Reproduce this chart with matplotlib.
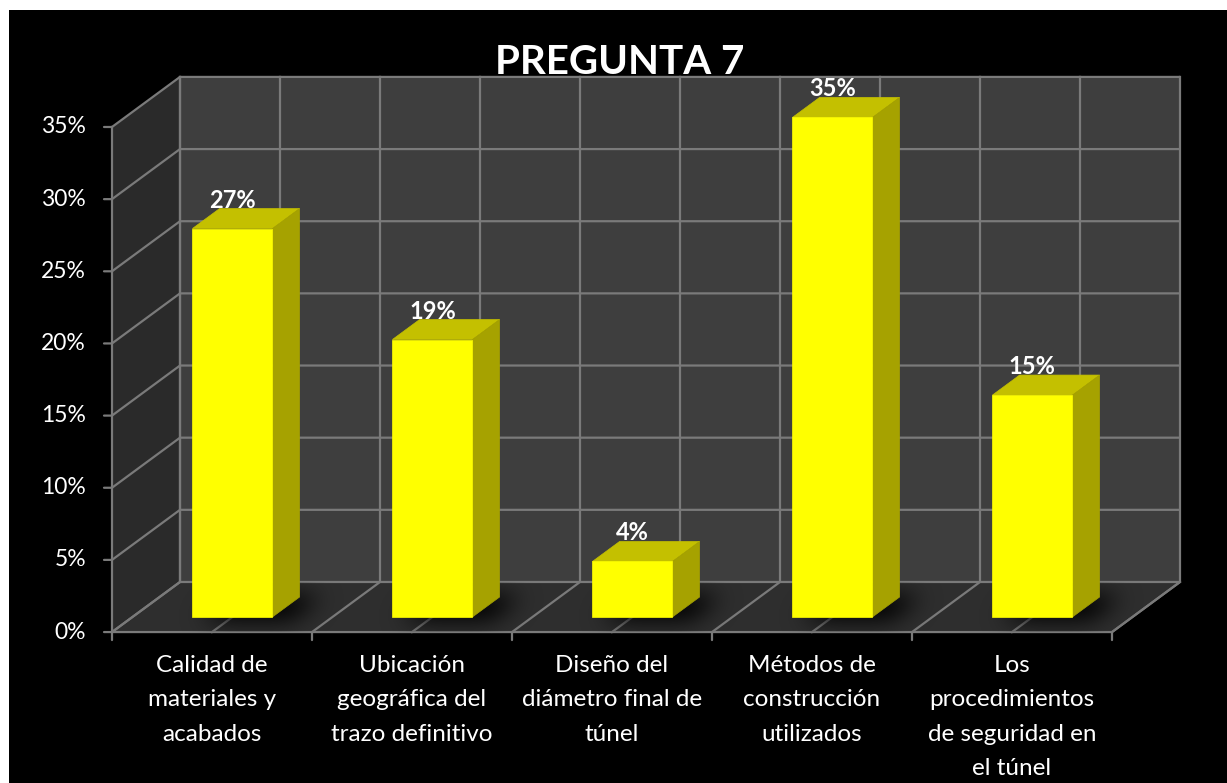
import numpy as np
import matplotlib
matplotlib.use("Agg")
import matplotlib.pyplot as plt
from matplotlib.patches import Polygon, Rectangle

plt.rcParams['font.family'] = ['Lato', 'DejaVu Sans']

title = "PREGUNTA 7"
categories = [
    "Calidad de\nmateriales y\nacabados",
    "Ubicación\ngeográfica del\ntrazo definitivo",
    "Diseño del\ndiámetro final de\ntúnel",
    "Métodos de\nconstrucción\nutilizados",
    "Los\nprocedimientos\nde seguridad en\nel túnel",
]
values = [0.2692, 0.1923, 0.0385, 0.3462, 0.1538]
yticks = [0, 0.05, 0.10, 0.15, 0.20, 0.25, 0.30, 0.35]

# oblique projection: depth d in [0, 1] shifts points right and up
DX, DY = 0.34, 0.0347
D0, D1 = 0.3, 0.7      # bar depth span
HALF = 0.2             # half bar width

BACK = "#3e3e3e"
LEFT = "#2a2a2a"
FLOOR = "#2e2e2e"
GRID = "#7a7a7a"
FRONT_C = "#ffff00"
TOP_C = "#c4c000"
SIDE_C = "#a6a200"


def P(x, v, d):
    return (x + DX * d, v + DY * d)


fig = plt.figure(figsize=(12.27, 7.83), dpi=100)
fig.patch.set_facecolor("white")
fig.patches.append(Rectangle((9 / 1227, 0), 1, 773 / 783, transform=fig.transFigure,
                             facecolor="black", edgecolor="none", zorder=-10))
ax = fig.add_axes([0, 0, 1, 1])
ax.set_facecolor("none")
ax.axis("off")

n = len(categories)
xl, xr = -0.5, n - 0.5
vmax = yticks[-1]

# walls and floor
back = Polygon([P(xl, 0, 1), P(xr, 0, 1), P(xr, vmax, 1), P(xl, vmax, 1)],
               facecolor=BACK, edgecolor="none", zorder=1)
left = Polygon([P(xl, 0, 0), P(xl, 0, 1), P(xl, vmax, 1), P(xl, vmax, 0)],
               facecolor=LEFT, edgecolor="none", zorder=1)
floor = Polygon([P(xl, 0, 0), P(xr, 0, 0), P(xr, 0, 1), P(xl, 0, 1)],
                facecolor=FLOOR, edgecolor="none", zorder=1)
for p in (back, left, floor):
    ax.add_patch(p)

lw = 1.6
# horizontal grid on back wall and left wall
for t in yticks:
    xs, ys = zip(P(xl, t, 0), P(xl, t, 1), P(xr, t, 1))
    ax.plot(xs, ys, color=GRID, lw=lw, zorder=2, solid_capstyle="butt")
# vertical grid on back wall, depth lines on floor
for k in range(2 * n + 1):
    x = xl + 0.5 * k
    xs, ys = zip(P(x, 0, 0), P(x, 0, 1), P(x, vmax, 1))
    ax.plot(xs, ys, color=GRID, lw=lw, zorder=2)
# outer edges
xs, ys = zip(P(xl, vmax, 0), P(xl, 0, 0), P(xr, 0, 0), P(xr, 0, 1))
ax.plot(xs, ys, color=GRID, lw=lw, zorder=2)
xs, ys = zip(P(xl, 0, 1), P(xl, vmax, 1))
ax.plot(xs, ys, color=GRID, lw=lw, zorder=2)

# tick marks
for t in yticks:
    ax.annotate("", xy=(xl, t), xytext=(-8, 0), textcoords="offset pixels",
                arrowprops=dict(arrowstyle="-", color=GRID, lw=lw, shrinkA=0, shrinkB=0))
    ax.annotate(f"{t:.0%}", xy=(xl, t), xytext=(-26, 0), textcoords="offset pixels",
                ha="right", va="center", color="white", fontsize=16.5)
for k in range(n + 1):
    ax.annotate("", xy=(xl + k, 0), xytext=(0, -8), textcoords="offset pixels",
                arrowprops=dict(arrowstyle="-", color=GRID, lw=lw, shrinkA=0, shrinkB=0))

# soft shadows under the bars
nx, ny = 300, 90
for i in range(n):
    ex0, ex1 = i - 0.55, i + 0.95
    ev0, ev1 = -0.01, 0.052
    gx = np.linspace(ex0, ex1, nx)
    gv = np.linspace(ev0, ev1, ny)
    X, V = np.meshgrid(gx, gv)
    d = V / DY
    u = X - DX * d - 0.06
    mask = ((d >= D0 - 0.05) & (d <= D1) & (u >= i - HALF) & (u <= i + HALF + 0.05)).astype(float)
    k = np.exp(-0.5 * (np.arange(-36, 37) / 12.0) ** 2)
    k /= k.sum()
    blur = np.apply_along_axis(lambda r: np.convolve(r, k, mode="same"), 1, mask)
    blur = np.apply_along_axis(lambda c: np.convolve(c, k, mode="same"), 0, blur)
    rgba = np.zeros((ny, nx, 4))
    rgba[..., 3] = np.clip(blur * 1.2, 0, 0.85)
    im = ax.imshow(rgba, extent=(ex0, ex1, ev0, ev1), origin="lower",
                   aspect="auto", interpolation="bilinear", zorder=3)
    im.set_clip_path(floor)

# bars
for i, v in enumerate(values):
    x0, x1 = i - HALF, i + HALF
    front = [P(x0, 0, D0), P(x1, 0, D0), P(x1, v, D0), P(x0, v, D0)]
    side = [P(x1, 0, D0), P(x1, 0, D1), P(x1, v, D1), P(x1, v, D0)]
    top = [P(x0, v, D0), P(x1, v, D0), P(x1, v, D1), P(x0, v, D1)]
    ax.add_patch(Polygon(top, facecolor=TOP_C, edgecolor=TOP_C, lw=0.5, zorder=4))
    ax.add_patch(Polygon(side, facecolor=SIDE_C, edgecolor=SIDE_C, lw=0.5, zorder=4))
    ax.add_patch(Polygon(front, facecolor=FRONT_C, edgecolor=FRONT_C, lw=0.5, zorder=5))
    lx = P(i, v, D0)[0]
    ly = P(i, v, D1)[1]
    ax.annotate(f"{v:.0%}", xy=(lx, ly), xytext=(0, -3), textcoords="offset pixels",
                ha="center", va="bottom", color="white", fontsize=17,
                fontweight="bold", zorder=6)
    ax.annotate(categories[i], xy=(i, 0), xytext=(0, -23), textcoords="offset pixels",
                ha="center", va="top", color="white", fontsize=17.5,
                linespacing=1.78, zorder=6)

ax.text(0.505, 0.92, title, transform=ax.transAxes, ha="center", va="center",
        color="white", fontsize=29, fontweight="bold", zorder=7)

# map data units onto the canvas: x in category steps, y in fractions
ax.set_xlim(-1.06, 5.075)
ax.set_ylim(-0.1046, 0.438)

fig.savefig("out.png", dpi=100, facecolor=fig.get_facecolor())
